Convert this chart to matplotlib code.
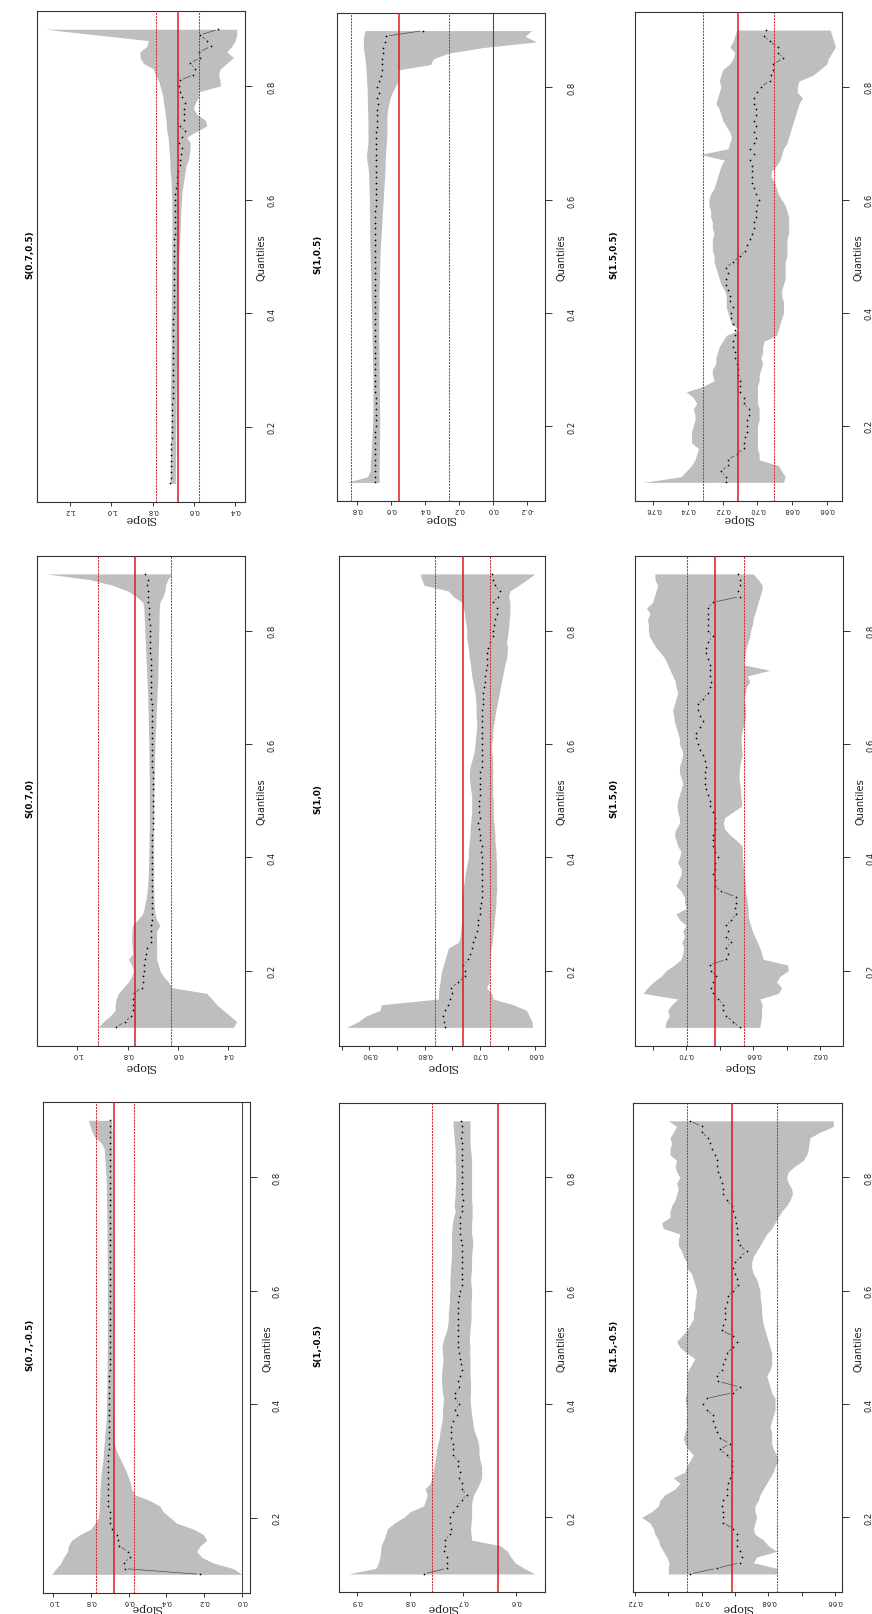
import numpy as np
import matplotlib
matplotlib.use('Agg')
import matplotlib.pyplot as plt
from matplotlib.collections import LineCollection

# quantiles at which the slope was estimated
tau = np.round(np.arange(0.10, 0.905, 0.01), 2)

titles = ['S(0.7,0.5)', 'S(1,0.5)', 'S(1.5,0.5)',
          'S(0.7,0)', 'S(1,0)', 'S(1.5,0)',
          'S(0.7,-0.5)', 'S(1,-0.5)', 'S(1.5,-0.5)']

# ---- S(0.7,0.5) ----
upper_07_p05 = [0.716, 0.715, 0.715, 0.714, 0.714, 0.713, 0.713, 0.712, 0.712, 0.712, 0.711,
                0.711, 0.711, 0.712, 0.712, 0.713, 0.714, 0.713, 0.712, 0.712, 0.711,
                0.711, 0.711, 0.710, 0.710, 0.710, 0.711, 0.711, 0.711, 0.710, 0.710,
                0.710, 0.709, 0.709, 0.709, 0.708, 0.708, 0.708, 0.707, 0.707, 0.707,
                0.707, 0.707, 0.706, 0.706, 0.706, 0.706, 0.707, 0.707, 0.707, 0.707,
                0.708, 0.709, 0.710, 0.712, 0.715, 0.716, 0.717, 0.719, 0.721, 0.723,
                0.725, 0.731, 0.733, 0.735, 0.739, 0.742, 0.747, 0.750, 0.756, 0.764,
                0.772, 0.788, 0.796, 0.845, 0.861, 0.861, 0.828, 0.820, 1.070, 1.321]
coef_07_p05 = [0.714, 0.713, 0.712, 0.712, 0.711, 0.710, 0.710, 0.709, 0.708, 0.707, 0.706,
               0.705, 0.705, 0.704, 0.704, 0.703, 0.703, 0.703, 0.702, 0.702, 0.702,
               0.701, 0.701, 0.701, 0.700, 0.700, 0.700, 0.699, 0.699, 0.699, 0.698,
               0.698, 0.698, 0.697, 0.697, 0.697, 0.696, 0.696, 0.696, 0.695, 0.695,
               0.695, 0.694, 0.694, 0.693, 0.693, 0.692, 0.692, 0.691, 0.690, 0.689,
               0.689, 0.687, 0.684, 0.680, 0.676, 0.667, 0.665, 0.662, 0.659, 0.672,
               0.659, 0.642, 0.667, 0.650, 0.647, 0.647, 0.642, 0.659, 0.667, 0.670,
               0.667, 0.602, 0.594, 0.618, 0.570, 0.573, 0.518, 0.534, 0.570, 0.481]
lower_07_p05 = [0.690, 0.690, 0.689, 0.689, 0.689, 0.688, 0.688, 0.688, 0.688, 0.688, 0.687,
                0.687, 0.687, 0.686, 0.686, 0.686, 0.686, 0.685, 0.685, 0.685, 0.685,
                0.684, 0.684, 0.684, 0.683, 0.683, 0.683, 0.683, 0.682, 0.682, 0.682,
                0.681, 0.681, 0.680, 0.680, 0.679, 0.678, 0.677, 0.676, 0.675, 0.674,
                0.672, 0.670, 0.668, 0.667, 0.666, 0.665, 0.664, 0.663, 0.662, 0.660,
                0.658, 0.655, 0.650, 0.646, 0.642, 0.638, 0.626, 0.622, 0.618, 0.618,
                0.634, 0.586, 0.537, 0.545, 0.586, 0.602, 0.594, 0.578, 0.575, 0.472,
                0.473, 0.480, 0.473, 0.440, 0.408, 0.440, 0.416, 0.400, 0.392, 0.392]

# ---- S(1,0.5) ----
upper_1_p05 = [0.863, 0.740, 0.725, 0.724, 0.722, 0.720, 0.718, 0.716, 0.714, 0.712, 0.711,
               0.710, 0.709, 0.709, 0.708, 0.708, 0.708, 0.708, 0.709, 0.709, 0.710,
               0.710, 0.711, 0.712, 0.712, 0.713, 0.714, 0.714, 0.715, 0.716, 0.716,
               0.717, 0.718, 0.719, 0.720, 0.720, 0.721, 0.722, 0.723, 0.724, 0.725,
               0.726, 0.727, 0.727, 0.728, 0.728, 0.728, 0.728, 0.729, 0.729, 0.730,
               0.730, 0.731, 0.732, 0.733, 0.735, 0.738, 0.744, 0.746, 0.742, 0.738,
               0.737, 0.738, 0.738, 0.738, 0.739, 0.740, 0.741, 0.741, 0.742, 0.743,
               0.745, 0.747, 0.749, 0.751, 0.755, 0.760, 0.764, 0.765, 0.763, 0.755]
coef_1_p05 = [0.698, 0.697, 0.697, 0.696, 0.696, 0.695, 0.695, 0.694, 0.694, 0.694, 0.693,
              0.693, 0.693, 0.693, 0.693, 0.693, 0.694, 0.694, 0.694, 0.695, 0.695,
              0.695, 0.695, 0.695, 0.696, 0.696, 0.697, 0.697, 0.697, 0.697, 0.698,
              0.698, 0.698, 0.698, 0.698, 0.698, 0.698, 0.697, 0.697, 0.697, 0.696,
              0.696, 0.696, 0.695, 0.695, 0.695, 0.694, 0.694, 0.694, 0.693, 0.693,
              0.692, 0.692, 0.691, 0.691, 0.690, 0.690, 0.689, 0.690, 0.692, 0.690,
              0.689, 0.688, 0.687, 0.686, 0.685, 0.684, 0.680, 0.683, 0.671, 0.685,
              0.675, 0.660, 0.655, 0.658, 0.654, 0.650, 0.650, 0.640, 0.630, 0.412]
lower_1_p05 = [0.671, 0.672, 0.672, 0.671, 0.671, 0.670, 0.670, 0.670, 0.669, 0.669, 0.669,
               0.669, 0.669, 0.669, 0.670, 0.670, 0.670, 0.671, 0.671, 0.671, 0.672,
               0.672, 0.672, 0.673, 0.673, 0.674, 0.674, 0.674, 0.674, 0.674, 0.674,
               0.673, 0.673, 0.672, 0.672, 0.671, 0.670, 0.670, 0.669, 0.668, 0.667,
               0.665, 0.664, 0.662, 0.660, 0.658, 0.656, 0.654, 0.652, 0.650, 0.648,
               0.646, 0.644, 0.642, 0.640, 0.638, 0.636, 0.636, 0.634, 0.632, 0.630,
               0.628, 0.626, 0.627, 0.626, 0.626, 0.622, 0.615, 0.608, 0.595, 0.578,
               0.560, 0.558, 0.565, 0.369, 0.353, 0.265, 0.059, -0.255, -0.186, -0.226]

# ---- S(1.5,0.5) ----
upper_15_p05 = [0.766, 0.744, 0.741, 0.738, 0.736, 0.735, 0.734, 0.738, 0.738, 0.738, 0.737,
                0.736, 0.736, 0.737, 0.735, 0.737, 0.741, 0.731, 0.725, 0.726, 0.726,
                0.724, 0.724, 0.723, 0.722, 0.720, 0.718, 0.710, 0.715, 0.716, 0.717,
                0.718, 0.718, 0.718, 0.719, 0.721, 0.722, 0.723, 0.724, 0.725, 0.725,
                0.726, 0.726, 0.726, 0.725, 0.726, 0.726, 0.727, 0.727, 0.728, 0.728,
                0.727, 0.725, 0.724, 0.723, 0.722, 0.721, 0.719, 0.733, 0.717, 0.716,
                0.715, 0.716, 0.718, 0.720, 0.721, 0.722, 0.724, 0.723, 0.722, 0.721,
                0.722, 0.721, 0.720, 0.716, 0.714, 0.713, 0.716, 0.714, 0.713, 0.712]
coef_15_p05 = [0.718, 0.718, 0.721, 0.717, 0.717, 0.712, 0.708, 0.708, 0.707, 0.706, 0.706,
               0.706, 0.705, 0.705, 0.708, 0.708, 0.710, 0.710, 0.710, 0.711, 0.711,
               0.712, 0.713, 0.713, 0.714, 0.714, 0.713, 0.713, 0.714, 0.715, 0.715,
               0.714, 0.716, 0.716, 0.717, 0.718, 0.718, 0.717, 0.718, 0.714, 0.710,
               0.707, 0.706, 0.704, 0.703, 0.702, 0.702, 0.701, 0.701, 0.700, 0.699,
               0.701, 0.702, 0.703, 0.703, 0.703, 0.703, 0.704, 0.702, 0.704, 0.702,
               0.701, 0.702, 0.701, 0.702, 0.701, 0.701, 0.702, 0.702, 0.700, 0.698,
               0.693, 0.692, 0.691, 0.691, 0.685, 0.688, 0.688, 0.693, 0.696, 0.695]
lower_15_p05 = [0.685, 0.684, 0.686, 0.688, 0.699, 0.699, 0.700, 0.700, 0.700, 0.700, 0.700,
                0.699, 0.699, 0.699, 0.700, 0.700, 0.700, 0.700, 0.699, 0.699, 0.698,
                0.697, 0.698, 0.697, 0.697, 0.696, 0.689, 0.688, 0.687, 0.686, 0.685,
                0.685, 0.685, 0.686, 0.686, 0.685, 0.684, 0.684, 0.684, 0.684, 0.683,
                0.683, 0.683, 0.683, 0.682, 0.682, 0.682, 0.682, 0.683, 0.684, 0.686,
                0.688, 0.689, 0.690, 0.692, 0.692, 0.689, 0.687, 0.686, 0.685, 0.683,
                0.682, 0.681, 0.680, 0.679, 0.678, 0.677, 0.676, 0.674, 0.677, 0.677,
                0.676, 0.668, 0.664, 0.660, 0.659, 0.657, 0.655, 0.656, 0.657, 0.658]

# ---- S(0.7,0) ----
upper_07_0 = [0.917, 0.897, 0.870, 0.850, 0.850, 0.846, 0.837, 0.817, 0.797, 0.784, 0.777,
              0.784, 0.797, 0.780, 0.782, 0.784, 0.784, 0.783, 0.781, 0.760, 0.741,
              0.735, 0.730, 0.726, 0.723, 0.721, 0.719, 0.718, 0.717, 0.717, 0.716,
              0.716, 0.715, 0.715, 0.715, 0.714, 0.714, 0.714, 0.714, 0.714, 0.714,
              0.714, 0.714, 0.714, 0.714, 0.715, 0.715, 0.715, 0.715, 0.716, 0.716,
              0.716, 0.717, 0.717, 0.718, 0.718, 0.719, 0.720, 0.720, 0.721, 0.722,
              0.723, 0.724, 0.725, 0.726, 0.727, 0.728, 0.729, 0.730, 0.731, 0.732,
              0.733, 0.734, 0.735, 0.736, 0.740, 0.765, 0.800, 0.860, 0.950, 1.122]
coef_07_0 = [0.846, 0.812, 0.785, 0.777, 0.777, 0.777, 0.774, 0.745, 0.740, 0.738, 0.736,
             0.734, 0.730, 0.726, 0.722, 0.708, 0.707, 0.706, 0.706, 0.705, 0.705,
             0.705, 0.705, 0.704, 0.704, 0.704, 0.704, 0.703, 0.703, 0.703, 0.703,
             0.702, 0.702, 0.702, 0.702, 0.701, 0.701, 0.701, 0.701, 0.701, 0.701,
             0.701, 0.701, 0.701, 0.701, 0.701, 0.702, 0.702, 0.702, 0.702, 0.702,
             0.702, 0.703, 0.703, 0.704, 0.704, 0.705, 0.705, 0.706, 0.706, 0.707,
             0.707, 0.708, 0.708, 0.709, 0.709, 0.710, 0.710, 0.711, 0.711, 0.712,
             0.713, 0.714, 0.715, 0.716, 0.718, 0.719, 0.721, 0.722, 0.720, 0.731]
lower_07_0 = [0.380, 0.367, 0.393, 0.420, 0.446, 0.466, 0.486, 0.625, 0.638, 0.658, 0.672,
              0.678, 0.685, 0.685, 0.685, 0.685, 0.685, 0.685, 0.672, 0.685, 0.691,
              0.694, 0.695, 0.696, 0.696, 0.697, 0.697, 0.697, 0.697, 0.697, 0.697,
              0.697, 0.697, 0.697, 0.697, 0.697, 0.697, 0.696, 0.696, 0.696, 0.696,
              0.696, 0.695, 0.695, 0.695, 0.694, 0.694, 0.693, 0.693, 0.692, 0.692,
              0.691, 0.690, 0.689, 0.688, 0.687, 0.686, 0.685, 0.684, 0.683, 0.682,
              0.681, 0.680, 0.680, 0.679, 0.679, 0.678, 0.678, 0.677, 0.677, 0.676,
              0.676, 0.675, 0.675, 0.674, 0.672, 0.660, 0.652, 0.650, 0.640, 0.625]

# ---- S(1,0) ----
upper_1_0 = [0.941, 0.920, 0.906, 0.881, 0.878, 0.775, 0.775, 0.774, 0.772, 0.771, 0.769,
             0.766, 0.763, 0.760, 0.757, 0.739, 0.736, 0.735, 0.734, 0.733, 0.733,
             0.733, 0.733, 0.733, 0.731, 0.730, 0.728, 0.727, 0.725, 0.723, 0.721,
             0.721, 0.720, 0.719, 0.718, 0.718, 0.717, 0.716, 0.715, 0.715, 0.715,
             0.715, 0.717, 0.718, 0.719, 0.719, 0.718, 0.715, 0.712, 0.710, 0.709,
             0.708, 0.707, 0.706, 0.706, 0.707, 0.707, 0.707, 0.708, 0.709, 0.711,
             0.713, 0.715, 0.716, 0.717, 0.719, 0.720, 0.721, 0.723, 0.724, 0.724,
             0.725, 0.727, 0.728, 0.730, 0.733, 0.748, 0.757, 0.801, 0.805, 0.808]
coef_1_0 = [0.763, 0.765, 0.766, 0.763, 0.757, 0.754, 0.751, 0.752, 0.739, 0.727, 0.727,
            0.730, 0.721, 0.718, 0.715, 0.712, 0.709, 0.706, 0.703, 0.703, 0.700,
            0.700, 0.698, 0.697, 0.697, 0.697, 0.697, 0.697, 0.697, 0.697, 0.697,
            0.698, 0.697, 0.700, 0.700, 0.701, 0.703, 0.700, 0.702, 0.701, 0.701,
            0.700, 0.700, 0.700, 0.700, 0.700, 0.697, 0.697, 0.697, 0.697, 0.697,
            0.697, 0.697, 0.697, 0.697, 0.697, 0.697, 0.695, 0.694, 0.694, 0.693,
            0.691, 0.691, 0.689, 0.688, 0.688, 0.687, 0.685, 0.682, 0.676, 0.676,
            0.674, 0.673, 0.670, 0.670, 0.676, 0.667, 0.664, 0.673, 0.676, 0.679]
lower_1_0 = [0.605, 0.606, 0.611, 0.616, 0.640, 0.676, 0.679, 0.688, 0.683, 0.683, 0.683,
             0.682, 0.682, 0.681, 0.680, 0.678, 0.677, 0.676, 0.675, 0.674, 0.673,
             0.672, 0.671, 0.671, 0.670, 0.670, 0.670, 0.670, 0.670, 0.670, 0.671,
             0.671, 0.672, 0.673, 0.673, 0.674, 0.675, 0.676, 0.676, 0.676, 0.676,
             0.677, 0.677, 0.677, 0.677, 0.677, 0.677, 0.677, 0.678, 0.679, 0.679,
             0.677, 0.677, 0.676, 0.674, 0.673, 0.671, 0.669, 0.667, 0.665, 0.663,
             0.661, 0.659, 0.657, 0.655, 0.652, 0.651, 0.650, 0.652, 0.650, 0.649,
             0.648, 0.647, 0.646, 0.646, 0.646, 0.648, 0.646, 0.630, 0.615, 0.601]

# ---- S(1.5,0) ----
upper_15_0 = [0.7126, 0.7120, 0.7100, 0.7110, 0.7085, 0.7050, 0.7256, 0.7230, 0.7195, 0.7150, 0.7120,
              0.7070, 0.7030, 0.7020, 0.7015, 0.7025, 0.7010, 0.7020, 0.7000, 0.7040, 0.7060,
              0.7000, 0.7010, 0.7010, 0.7030, 0.7060, 0.7045, 0.7030, 0.7030, 0.7050, 0.7040,
              0.7030, 0.7050, 0.7060, 0.7070, 0.7060, 0.7040, 0.7040, 0.7050, 0.7055, 0.7050,
              0.7040, 0.7030, 0.7020, 0.7030, 0.7040, 0.7040, 0.7030, 0.7020, 0.7025, 0.7040,
              0.7040, 0.7050, 0.7060, 0.7070, 0.7075, 0.7080, 0.7070, 0.7060, 0.7050, 0.7060,
              0.7065, 0.7080, 0.7095, 0.7110, 0.7125, 0.7150, 0.7180, 0.7200, 0.7220, 0.7225,
              0.7225, 0.7230, 0.7215, 0.7236, 0.7200, 0.7190, 0.7180, 0.7170, 0.7186, 0.7186]
coef_15_0 = [0.668, 0.672, 0.676, 0.678, 0.678, 0.681, 0.684, 0.685, 0.684, 0.682, 0.685,
             0.686, 0.676, 0.675, 0.676, 0.673, 0.676, 0.675, 0.676, 0.673, 0.670,
             0.671, 0.670, 0.670, 0.679, 0.683, 0.683, 0.684, 0.683, 0.683, 0.681,
             0.683, 0.684, 0.684, 0.684, 0.683, 0.683, 0.683, 0.684, 0.686, 0.686,
             0.687, 0.688, 0.689, 0.689, 0.689, 0.688, 0.689, 0.690, 0.692, 0.693,
             0.694, 0.694, 0.692, 0.690, 0.692, 0.693, 0.693, 0.690, 0.687, 0.686,
             0.685, 0.686, 0.686, 0.686, 0.687, 0.688, 0.688, 0.687, 0.684, 0.687,
             0.687, 0.687, 0.687, 0.687, 0.684, 0.668, 0.669, 0.668, 0.668, 0.669]
lower_15_0 = [0.6560, 0.6555, 0.6550, 0.6550, 0.6545, 0.6560, 0.6450, 0.6430, 0.6460, 0.6440, 0.6390,
              0.6395, 0.6540, 0.6550, 0.6560, 0.6575, 0.6590, 0.6605, 0.6615, 0.6625, 0.6630,
              0.6630, 0.6635, 0.6640, 0.6645, 0.6645, 0.6650, 0.6655, 0.6658, 0.6660, 0.6665,
              0.6665, 0.6665, 0.6700, 0.6740, 0.6770, 0.6778, 0.6770, 0.6720, 0.6670, 0.6670,
              0.6675, 0.6675, 0.6680, 0.6685, 0.6683, 0.6680, 0.6675, 0.6665, 0.6668, 0.6670,
              0.6672, 0.6668, 0.6660, 0.6650, 0.6645, 0.6645, 0.6648, 0.6655, 0.6645, 0.6640,
              0.6620, 0.6635, 0.6500, 0.6660, 0.6650, 0.6645, 0.6640, 0.6630, 0.6620, 0.6615,
              0.6605, 0.6600, 0.6590, 0.6580, 0.6570, 0.6560, 0.6550, 0.6545, 0.6570, 0.6600]

# ---- S(0.7,-0.5) ----
upper_07_m05 = [1.009, 0.985, 0.960, 0.945, 0.925, 0.920, 0.903, 0.858, 0.800, 0.779, 0.761,
                0.757, 0.755, 0.754, 0.753, 0.752, 0.750, 0.748, 0.745, 0.742, 0.737,
                0.735, 0.733, 0.730, 0.727, 0.725, 0.722, 0.720, 0.718, 0.717, 0.717,
                0.716, 0.716, 0.715, 0.715, 0.715, 0.714, 0.714, 0.714, 0.714, 0.713,
                0.713, 0.713, 0.713, 0.713, 0.713, 0.713, 0.713, 0.713, 0.713, 0.713,
                0.713, 0.713, 0.713, 0.714, 0.714, 0.714, 0.714, 0.714, 0.715, 0.715,
                0.715, 0.716, 0.716, 0.716, 0.717, 0.717, 0.718, 0.718, 0.719, 0.720,
                0.722, 0.724, 0.726, 0.728, 0.730, 0.745, 0.779, 0.795, 0.805, 0.814]
coef_07_m05 = [0.221, 0.619, 0.625, 0.593, 0.602, 0.650, 0.655, 0.664, 0.690, 0.699, 0.699,
               0.700, 0.708, 0.708, 0.712, 0.712, 0.711, 0.710, 0.709, 0.708, 0.707,
               0.707, 0.706, 0.706, 0.705, 0.705, 0.704, 0.704, 0.704, 0.703, 0.703,
               0.703, 0.702, 0.702, 0.702, 0.702, 0.701, 0.701, 0.701, 0.701, 0.700,
               0.700, 0.700, 0.700, 0.700, 0.699, 0.699, 0.699, 0.699, 0.699, 0.699,
               0.699, 0.699, 0.699, 0.699, 0.699, 0.698, 0.698, 0.698, 0.698, 0.698,
               0.698, 0.698, 0.698, 0.698, 0.698, 0.698, 0.698, 0.698, 0.698, 0.698,
               0.698, 0.698, 0.698, 0.699, 0.699, 0.699, 0.699, 0.699, 0.699, 0.699]
lower_07_m05 = [0.000, 0.044, 0.150, 0.212, 0.239, 0.221, 0.186, 0.204, 0.257, 0.345, 0.380,
                0.416, 0.434, 0.487, 0.566, 0.584, 0.590, 0.600, 0.612, 0.625, 0.640,
                0.655, 0.668, 0.675, 0.678, 0.679, 0.680, 0.680, 0.681, 0.681, 0.681,
                0.682, 0.682, 0.683, 0.683, 0.683, 0.683, 0.684, 0.684, 0.684, 0.684,
                0.684, 0.684, 0.684, 0.685, 0.685, 0.685, 0.685, 0.685, 0.685, 0.685,
                0.686, 0.686, 0.686, 0.686, 0.686, 0.686, 0.686, 0.686, 0.686, 0.686,
                0.687, 0.687, 0.687, 0.687, 0.687, 0.687, 0.687, 0.687, 0.687, 0.687,
                0.687, 0.687, 0.687, 0.688, 0.688, 0.688, 0.688, 0.688, 0.690, 0.690]

# ---- S(1,-0.5) ----
upper_1_m05 = [0.917, 0.865, 0.860, 0.857, 0.856, 0.855, 0.850, 0.846, 0.843, 0.830, 0.812,
               0.800, 0.775, 0.771, 0.768, 0.772, 0.762, 0.759, 0.757, 0.755, 0.753,
               0.751, 0.750, 0.748, 0.745, 0.744, 0.742, 0.740, 0.739, 0.739, 0.738,
               0.737, 0.739, 0.740, 0.741, 0.741, 0.740, 0.739, 0.738, 0.739, 0.740,
               0.738, 0.735, 0.731, 0.729, 0.728, 0.728, 0.727, 0.726, 0.726, 0.725,
               0.725, 0.725, 0.724, 0.724, 0.723, 0.722, 0.722, 0.722, 0.722, 0.722,
               0.721, 0.720, 0.718, 0.715, 0.717, 0.716, 0.715, 0.715, 0.714, 0.714,
               0.714, 0.714, 0.715, 0.715, 0.715, 0.716, 0.717, 0.718, 0.719, 0.719]
coef_1_m05 = [0.774, 0.731, 0.731, 0.731, 0.737, 0.734, 0.734, 0.725, 0.722, 0.725, 0.725,
              0.719, 0.712, 0.703, 0.693, 0.703, 0.703, 0.707, 0.706, 0.709, 0.709,
              0.719, 0.719, 0.720, 0.722, 0.722, 0.722, 0.719, 0.712, 0.715, 0.707,
              0.715, 0.715, 0.707, 0.709, 0.706, 0.703, 0.704, 0.706, 0.707, 0.709,
              0.709, 0.709, 0.710, 0.710, 0.709, 0.709, 0.709, 0.709, 0.708, 0.706,
              0.703, 0.703, 0.703, 0.703, 0.703, 0.703, 0.703, 0.703, 0.704, 0.706,
              0.706, 0.706, 0.706, 0.703, 0.703, 0.701, 0.703, 0.703, 0.703, 0.703,
              0.703, 0.703, 0.703, 0.703, 0.703, 0.703, 0.704, 0.703, 0.703, 0.704]
lower_1_m05 = [0.564, 0.585, 0.602, 0.610, 0.616, 0.630, 0.684, 0.685, 0.686, 0.685, 0.684,
               0.684, 0.684, 0.683, 0.680, 0.674, 0.669, 0.665, 0.665, 0.665, 0.668,
               0.670, 0.670, 0.671, 0.674, 0.678, 0.681, 0.682, 0.684, 0.685, 0.686,
               0.687, 0.686, 0.686, 0.686, 0.687, 0.687, 0.687, 0.687, 0.688, 0.687,
               0.688, 0.688, 0.687, 0.686, 0.685, 0.685, 0.685, 0.685, 0.684, 0.684,
               0.685, 0.686, 0.685, 0.684, 0.684, 0.684, 0.683, 0.682, 0.682, 0.684,
               0.684, 0.684, 0.683, 0.683, 0.683, 0.684, 0.684, 0.684, 0.684, 0.684,
               0.684, 0.684, 0.684, 0.685, 0.686, 0.687, 0.687, 0.687, 0.687, 0.687]

# ---- S(1.5,-0.5) ----
upper_15_m05 = [0.7100, 0.7100, 0.7098, 0.7105, 0.7115, 0.7125, 0.7130, 0.7140, 0.7145, 0.7155, 0.7180,
                0.7150, 0.7130, 0.7125, 0.7110, 0.7080, 0.7065, 0.7085, 0.7050, 0.7045, 0.7035,
                0.7025, 0.7040, 0.7050, 0.7055, 0.7050, 0.7045, 0.7047, 0.7045, 0.7045, 0.7047,
                0.7050, 0.7045, 0.7045, 0.7045, 0.7045, 0.7040, 0.7030, 0.7020, 0.7045, 0.7065,
                0.7075, 0.7060, 0.7045, 0.7035, 0.7025, 0.7025, 0.7020, 0.7020, 0.7017, 0.7015,
                0.7020, 0.7025, 0.7030, 0.7045, 0.7045, 0.7055, 0.7060, 0.7070, 0.7070, 0.7065,
                0.7115, 0.7120, 0.7095, 0.7095, 0.7090, 0.7080, 0.7075, 0.7070, 0.7075, 0.7065,
                0.7075, 0.7080, 0.7075, 0.7095, 0.7095, 0.7090, 0.7095, 0.7085, 0.7075, 0.7100]
coef_15_m05 = [0.7035, 0.6955, 0.6885, 0.6880, 0.6885, 0.6895, 0.6895, 0.6895, 0.6905, 0.6935, 0.6935,
               0.6935, 0.6940, 0.6935, 0.6925, 0.6925, 0.6920, 0.6915, 0.6910, 0.6910, 0.6910,
               0.6925, 0.6945, 0.6915, 0.6945, 0.6955, 0.6960, 0.6965, 0.6965, 0.6985, 0.6995,
               0.6985, 0.6905, 0.6885, 0.6950, 0.6955, 0.6940, 0.6935, 0.6930, 0.6925, 0.6905,
               0.6895, 0.6905, 0.6940, 0.6935, 0.6930, 0.6930, 0.6930, 0.6925, 0.6920, 0.6905,
               0.6890, 0.6895, 0.6900, 0.6905, 0.6900, 0.6885, 0.6865, 0.6885, 0.6890, 0.6895,
               0.6895, 0.6897, 0.6900, 0.6905, 0.6910, 0.6925, 0.6935, 0.6935, 0.6940, 0.6945,
               0.6950, 0.6955, 0.6955, 0.6960, 0.6970, 0.6975, 0.6980, 0.7000, 0.7000, 0.7035]
lower_15_m05 = [0.6775, 0.6775, 0.6845, 0.6835, 0.6775, 0.6800, 0.6815, 0.6840, 0.6845, 0.6840, 0.6835,
                0.6840, 0.6840, 0.6830, 0.6825, 0.6815, 0.6805, 0.6795, 0.6785, 0.6780, 0.6770,
                0.6775, 0.6785, 0.6790, 0.6790, 0.6790, 0.6795, 0.6790, 0.6785, 0.6780, 0.6780,
                0.6780, 0.6790, 0.6795, 0.6800, 0.6805, 0.6795, 0.6790, 0.6790, 0.6790, 0.6795,
                0.6800, 0.6805, 0.6810, 0.6815, 0.6818, 0.6820, 0.6820, 0.6822, 0.6825, 0.6825,
                0.6830, 0.6835, 0.6845, 0.6850, 0.6850, 0.6845, 0.6835, 0.6825, 0.6815, 0.6805,
                0.6790, 0.6780, 0.6770, 0.6760, 0.6745, 0.6735, 0.6728, 0.6730, 0.6740, 0.6745,
                0.6740, 0.6720, 0.6695, 0.6685, 0.6680, 0.6678, 0.6675, 0.6645, 0.6605, 0.6605]

# OLS slope with its lower and upper confidence bounds
ols_07_p05 = [0.678, 0.576, 0.783]
ols_1_p05 = [0.555, 0.261, 0.839]
ols_15_p05 = [0.711, 0.6904, 0.7315]
ols_07_0 = [0.771, 0.626, 0.9175]
ols_1_0 = [0.7313, 0.6819, 0.7813]
ols_15_0 = [0.6828, 0.6653, 0.6997]
ols_07_m05 = [0.676, 0.570, 0.775]
ols_1_m05 = [0.6348, 0.5114, 0.7582]
ols_15_m05 = [0.6908, 0.6775, 0.7045]

# slope-axis ticks and their labels ('' = unlabelled tick)
ticks_07_p05 = [0.4, 0.6, 0.8, 1.0, 1.2]
labels_07_p05 = ['0.4', '0.6', '0.8', '1.0', '1.2']
ticks_1_p05 = [-0.2, 0.0, 0.2, 0.4, 0.6, 0.8]
labels_1_p05 = ['-0.2', '0.0', '0.2', '0.4', '0.6', '0.8']
ticks_15_p05 = [0.66, 0.68, 0.70, 0.72, 0.74, 0.76]
labels_15_p05 = ['0.66', '0.68', '0.70', '0.72', '0.74', '0.76']
ticks_07_0 = [0.4, 0.6, 0.8, 1.0]
labels_07_0 = ['0.4', '0.6', '0.8', '1.0']
ticks_1_0 = [0.60, 0.65, 0.70, 0.75, 0.80, 0.85, 0.90, 0.95]
labels_1_0 = ['0.60', '', '0.70', '', '0.80', '', '0.90', '']
ticks_15_0 = [0.62, 0.64, 0.66, 0.68, 0.70, 0.72]
labels_15_0 = ['0.62', '', '0.66', '', '0.70', '']
ticks_07_m05 = [0.0, 0.2, 0.4, 0.6, 0.8, 1.0]
labels_07_m05 = ['0.0', '0.2', '0.4', '0.6', '0.8', '1.0']
ticks_1_m05 = [0.6, 0.7, 0.8, 0.9]
labels_1_m05 = ['0.6', '0.7', '0.8', '0.9']
ticks_15_m05 = [0.66, 0.67, 0.68, 0.69, 0.70, 0.71, 0.72]
labels_15_m05 = ['0.66', '', '0.68', '', '0.70', '', '0.72']

quant_ticks = [0.2, 0.4, 0.6, 0.8]
quant_labels = ['0.2', '0.4', '0.6', '0.8']

series = [
    (upper_07_p05, coef_07_p05, lower_07_p05, ols_07_p05, ticks_07_p05, labels_07_p05),
    (upper_1_p05, coef_1_p05, lower_1_p05, ols_1_p05, ticks_1_p05, labels_1_p05),
    (upper_15_p05, coef_15_p05, lower_15_p05, ols_15_p05, ticks_15_p05, labels_15_p05),
    (upper_07_0, coef_07_0, lower_07_0, ols_07_0, ticks_07_0, labels_07_0),
    (upper_1_0, coef_1_0, lower_1_0, ols_1_0, ticks_1_0, labels_1_0),
    (upper_15_0, coef_15_0, lower_15_0, ols_15_0, ticks_15_0, labels_15_0),
    (upper_07_m05, coef_07_m05, lower_07_m05, ols_07_m05, ticks_07_m05, labels_07_m05),
    (upper_1_m05, coef_1_m05, lower_1_m05, ols_1_m05, ticks_1_m05, labels_1_m05),
    (upper_15_m05, coef_15_m05, lower_15_m05, ols_15_m05, ticks_15_m05, labels_15_m05),
]
for s in series:
    assert len(s[0]) == len(s[1]) == len(s[2]) == len(tau)

# ---- layout (pixels in an 872 x 1615 canvas) ----
W, H = 872, 1615
boxes = [(36.7, 12.1, 245.0, 502.5), (336.7, 13.5, 545.0, 501.5), (635.0, 13.0, 841.7, 501.5),
         (36.7, 556.8, 245.0, 1046.5), (339.3, 556.8, 545.0, 1046.5), (635.0, 556.8, 843.3, 1046.5),
         (43.3, 1103.2, 250.0, 1593.5), (339.3, 1103.7, 545.0, 1593.1), (633.3, 1103.7, 841.7, 1593.1)]
slope_lims = [(1.362, 0.352), (0.9216, -0.304), (0.7706, 0.6514),
              (1.1616, 0.3338), (0.9542, 0.5825), (0.7305, 0.6062),
              (1.053, -0.044), (0.934, 0.5453), (0.7205, 0.658)]
title_x = [30, 318, 614]
slope_dy = [17, 20, 14.5]

narrow = ['Liberation Sans Narrow', 'DejaVu Sans']

fig = plt.figure(figsize=(W / 100, H / 100), dpi=100, facecolor='white')

for i, (hi, coef, lo, ols, ticks, labels) in enumerate(series):
    x0, y0, x1, y1 = boxes[i]
    row, col = divmod(i, 3)
    ax = fig.add_axes([x0 / W, 1 - y1 / H, (x1 - x0) / W, (y1 - y0) / H])
    ax.set_xlim(*slope_lims[i])
    ax.set_ylim(0.068, 0.932)

    # confidence band of the quantile regression slope
    ax.fill_betweenx(tau, lo, hi, color='#bebebe', lw=0, zorder=1)
    ax.axvline(0, color='#4d4d4d', lw=0.8, zorder=2)

    # joining segments that stop short of the points (R type='b')
    pts = ax.transData.transform(np.column_stack([coef, tau]))
    inv = ax.transData.inverted()
    segs = []
    for p, q in zip(pts[:-1], pts[1:]):
        d = q - p
        dist = np.hypot(d[0], d[1])
        if dist > 7:
            u = d / dist
            segs.append(inv.transform(np.array([p + 3 * u, q - 3 * u])))
    ax.add_collection(LineCollection(segs, colors='#4a4a4a', linewidths=0.5, zorder=3),
                      autolim=False)
    ax.plot(coef, tau, ls='none', marker='o', ms=1.25, mew=0, color='black', zorder=4)

    # OLS estimate and its confidence bounds
    ax.axvline(ols[0], color='#d91c1c', lw=1.1, zorder=5)
    for v in ols[1:]:
        ax.axvline(v, color='#d02a2a', lw=0.75, ls=(0, (2.0, 1.0)), zorder=5)

    ax.set_xlim(*slope_lims[i])
    ax.set_ylim(0.068, 0.932)

    ax.set_xticks(ticks)
    ax.set_xticklabels(labels, family='DejaVu Sans', fontsize=5.0, rotation=180,
                       color='#222222')
    ax.tick_params(axis='x', length=3.2, width=0.7, pad=1.0, color='#333333')
    ax.yaxis.tick_right()
    ax.set_yticks(quant_ticks)
    ax.set_yticklabels(quant_labels, family=narrow, fontsize=6.0, rotation=90,
                       va='center', color='#222222')
    ax.tick_params(axis='y', length=5, width=0.7, pad=11.5, color='#333333')
    for sp in ax.spines.values():
        sp.set_color('#333333')
        sp.set_linewidth(0.8)

    cy = (y0 + y1) / 2
    fig.text(title_x[col] / W, 1 - (cy - 3) / H, titles[i], rotation=90, ha='center',
             va='center', fontsize=6.3, fontweight='bold', family=narrow)
    fig.text((x1 + 17) / W, 1 - cy / H, 'Quantiles', rotation=90, ha='center',
             va='center', fontsize=7, family=narrow, color='#222222')
    fig.text((x0 + x1) / 2 / W, 1 - (y1 + slope_dy[row]) / H, 'Slope', rotation=180,
             ha='center', va='center', fontsize=8, family='DejaVu Serif', color='#222222')

fig.savefig('out.png', dpi=100, facecolor='white')
